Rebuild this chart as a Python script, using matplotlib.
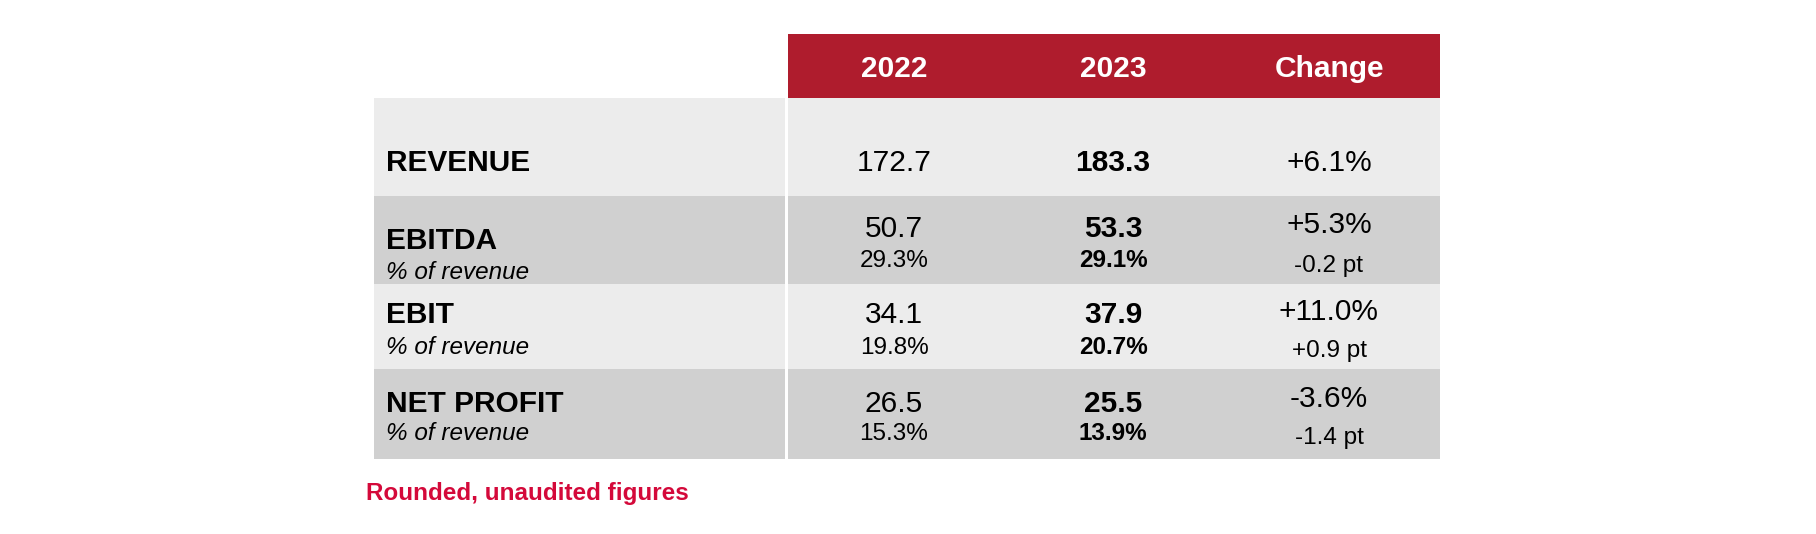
import matplotlib.pyplot as plt
from matplotlib.patches import Rectangle

plt.rcParams['font.family'] = ['Liberation Sans', 'DejaVu Sans']

# table data
columns = ['2022', '2023', 'Change']
rows = ['REVENUE', 'EBITDA', 'EBIT', 'NET PROFIT']
val_2022 = ['172.7', '50.7', '34.1', '26.5']
val_2023 = ['183.3', '53.3', '37.9', '25.5']
change = ['+6.1%', '+5.3%', '+11.0%', '-3.6%']
margin_2022 = [None, '29.3%', '19.8%', '15.3%']
margin_2023 = [None, '29.1%', '20.7%', '13.9%']
margin_change = [None, '-0.2 pt', '+0.9 pt', '-1.4 pt']
footnote = 'Rounded, unaudited figures'

red = '#af1c2d'
light = '#ececec'
dark = '#d0d0d0'

big = 21.5
small = 17.5

fig = plt.figure(figsize=(18.16, 5.34), dpi=100)
ax = fig.add_axes([0, 0, 1, 1])
ax.set_xlim(0, 1816)
ax.set_ylim(534, 0)
ax.axis('off')

# layout (pixels, baselines)
left, split, right = 374, 786, 1440
head_top, head_bot = 34, 98
row_edges = [98, 196, 284, 369, 459]
col_x = [894, 1113, 1329]
label_x = 386
label_y = [171, 249, 323, 412]
sub_y = [None, 279, 354, 440]
val_y = [171, 237, 323, 412]
marg_y = [None, 267, 354, 440]
chg_y = [171, 233, 320, 407]
pt_y = [None, 272, 357, 444]

ax.add_patch(Rectangle((split + 2, head_top), right - split - 2, head_bot - head_top,
                       color=red, lw=0))
for cx, c in zip(col_x, columns):
    ax.text(cx, 77, c, color='white', fontsize=big, fontweight='bold',
            ha='center', va='baseline')

for i, name in enumerate(rows):
    top, bot = row_edges[i], row_edges[i + 1]
    bg = light if i % 2 == 0 else dark
    ax.add_patch(Rectangle((left, top), split - 1 - left, bot - top, color=bg, lw=0))
    ax.add_patch(Rectangle((split + 2, top), right - split - 2, bot - top, color=bg, lw=0))

    ax.text(label_x, label_y[i], name, fontsize=big, fontweight='bold', va='baseline')
    ax.text(col_x[0], val_y[i], val_2022[i], fontsize=big, ha='center', va='baseline')
    ax.text(col_x[1], val_y[i], val_2023[i], fontsize=big, fontweight='bold',
            ha='center', va='baseline')
    ax.text(col_x[2], chg_y[i], change[i], fontsize=big, ha='center', va='baseline')
    if margin_2022[i] is not None:
        ax.text(label_x, sub_y[i], '% of revenue', fontsize=small, style='italic',
                va='baseline')
        ax.text(col_x[0], marg_y[i], margin_2022[i], fontsize=small, ha='center',
                va='baseline')
        ax.text(col_x[1], marg_y[i], margin_2023[i], fontsize=small, fontweight='bold',
                ha='center', va='baseline')
        ax.text(col_x[2], pt_y[i], margin_change[i], fontsize=small, ha='center',
                va='baseline')

ax.text(366, 500, footnote, color='#d4093a', fontsize=small, fontweight='bold',
        va='baseline')

fig.savefig('out.png', dpi=100)
